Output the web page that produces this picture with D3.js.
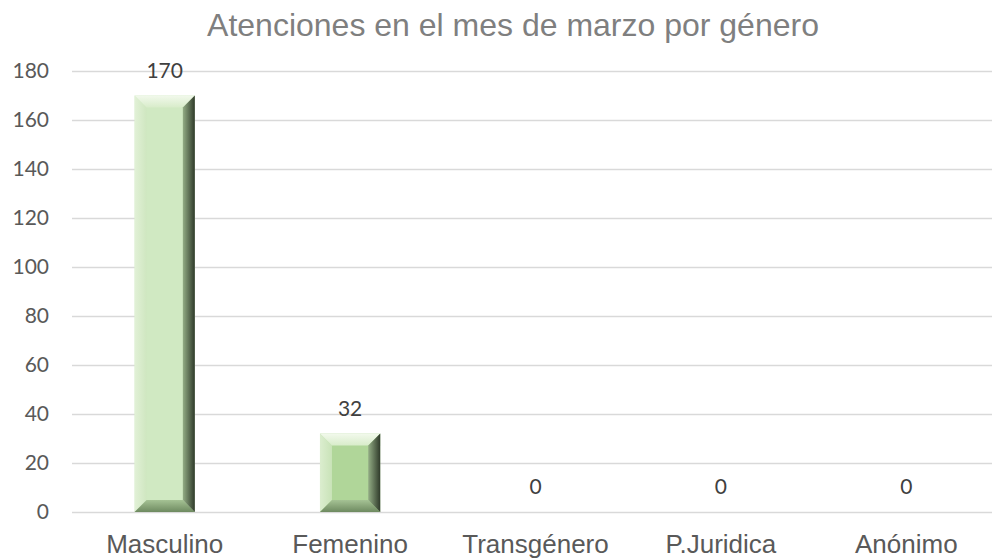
<!DOCTYPE html>
<html>
<head>
<meta charset="utf-8">
<script src="https://cdn.jsdelivr.net/npm/d3@7"></script>
<style>
  body { margin: 0; background: #fff; }
  svg { display: block; }
</style>
</head>
<body>
<div id="chart"></div>
<script>
// chart data
const categories = ["Masculino", "Femenino", "Transgénero", "P.Juridica", "Anónimo"];
const values = [170, 32, 0, 0, 0];
const yTicks = [0, 20, 40, 60, 80, 100, 120, 140, 160, 180];
const faceColors = ["#d0e9c2", "#b0d699", "#b0d699", "#b0d699", "#b0d699"];
const title = "Atenciones en el mes de marzo por género";

const W = 992, H = 559;
const margin = {top: 71, right: -7, bottom: 47, left: 72};

const svg = d3.select("#chart").append("svg")
              .attr("width", W)
              .attr("height", H);

const xScale = d3.scaleBand()
                 .domain(categories)
                 .range([margin.left, W - margin.right])
                 .paddingInner(0.675)
                 .paddingOuter(0.3375);

const yScale = d3.scaleLinear()
                 .domain([0, 180])
                 .range([H - margin.bottom, margin.top]);

// gradients for the bevel edges
const defs = svg.append("defs");
const addGrad = (id, vertical, c0, c1) => {
  const g = defs.append("linearGradient").attr("id", id)
                .attr("x1", "0").attr("y1", "0")
                .attr("x2", vertical ? "0" : "1").attr("y2", vertical ? "1" : "0");
  g.append("stop").attr("offset", "0%").attr("stop-color", c0);
  g.append("stop").attr("offset", "100%").attr("stop-color", c1);
};
addGrad("rightEdge", false, "#93ad85", "#2f3a2a");
addGrad("topEdge", true, "#f2f9ec", "#d8ecca");
addGrad("botEdge", true, "#a5c294", "#6e8a60");
addGrad("leftEdge", false, "#e6f3dc", "#cfe6c0");

// gridlines + y ticks
const yAxisGenerator = d3.axisLeft(yScale)
                         .tickValues(yTicks)
                         .tickSize(-(W - margin.left))
                         .tickPadding(23);

svg.append("g")
   .attr("class", "y-axis")
   .attr("transform", "translate(" + margin.left + ",0)")
   .call(yAxisGenerator)
   .call(g => g.select(".domain").remove())
   .call(g => g.selectAll("line").attr("stroke", "#d9d9d9").attr("stroke-width", 1.3))
   .call(g => g.selectAll("text")
               .attr("fill", "#595959")
               .style("font-family", "Lato, 'Open Sans', sans-serif")
               .style("font-size", "21px"));

// bars with bevel
const bars = svg.selectAll(".bar")
                .data(categories.map((c, i) => ({cat: c, value: values[i], color: faceColors[i]})))
                .enter()
                .append("g")
                .attr("class", "bar");

bars.each(function(d) {
  if (d.value === 0) return;
  const g = d3.select(this);
  const x0 = xScale(d.cat), x1 = x0 + xScale.bandwidth();
  const y0 = yScale(d.value), y1 = yScale(0);
  const b = Math.min(12, (y1 - y0) / 3.5);
  const pts = a => a.map(p => p.join(",")).join(" ");
  g.append("rect").attr("x", x0).attr("y", y0).attr("width", x1 - x0).attr("height", y1 - y0)
   .attr("fill", d.color);
  // left
  g.append("polygon").attr("points", pts([[x0, y0], [x0 + b, y0 + b], [x0 + b, y1 - b], [x0, y1]]))
   .attr("fill", "url(#leftEdge)").attr("opacity", 0.8);
  // top
  g.append("polygon").attr("points", pts([[x0, y0], [x1, y0], [x1 - b, y0 + b], [x0 + b, y0 + b]]))
   .attr("fill", "url(#topEdge)");
  // bottom
  g.append("polygon").attr("points", pts([[x0, y1], [x0 + b, y1 - b], [x1 - b, y1 - b], [x1, y1]]))
   .attr("fill", "url(#botEdge)");
  // right
  g.append("polygon").attr("points", pts([[x1, y0], [x1, y1], [x1 - b, y1 - b], [x1 - b, y0 + b]]))
   .attr("fill", "url(#rightEdge)");
});

// data labels
svg.selectAll(".label")
   .data(values)
   .enter()
   .append("text")
   .attr("x", (d, i) => xScale(categories[i]) + xScale.bandwidth() / 2)
   .attr("y", d => yScale(d) - 18)
   .attr("text-anchor", "middle")
   .attr("fill", "#404040")
   .style("font-family", "Lato, 'Open Sans', sans-serif")
   .style("font-size", "21px")
   .text(d => d);

// category labels
svg.selectAll(".cat")
   .data(categories)
   .enter()
   .append("text")
   .attr("x", d => xScale(d) + xScale.bandwidth() / 2)
   .attr("y", H - 6)
   .attr("text-anchor", "middle")
   .attr("fill", "#595959")
   .style("font-family", "'Liberation Sans', Arial, sans-serif")
   .style("font-size", "26px")
   .text(d => d);

// title
svg.append("text")
   .attr("x", 513)
   .attr("y", 36)
   .attr("text-anchor", "middle")
   .attr("fill", "#7f7f7f")
   .style("font-family", "'Liberation Sans', Arial, sans-serif")
   .style("font-size", "32px")
   .text(title);
</script>
</body>
</html>
